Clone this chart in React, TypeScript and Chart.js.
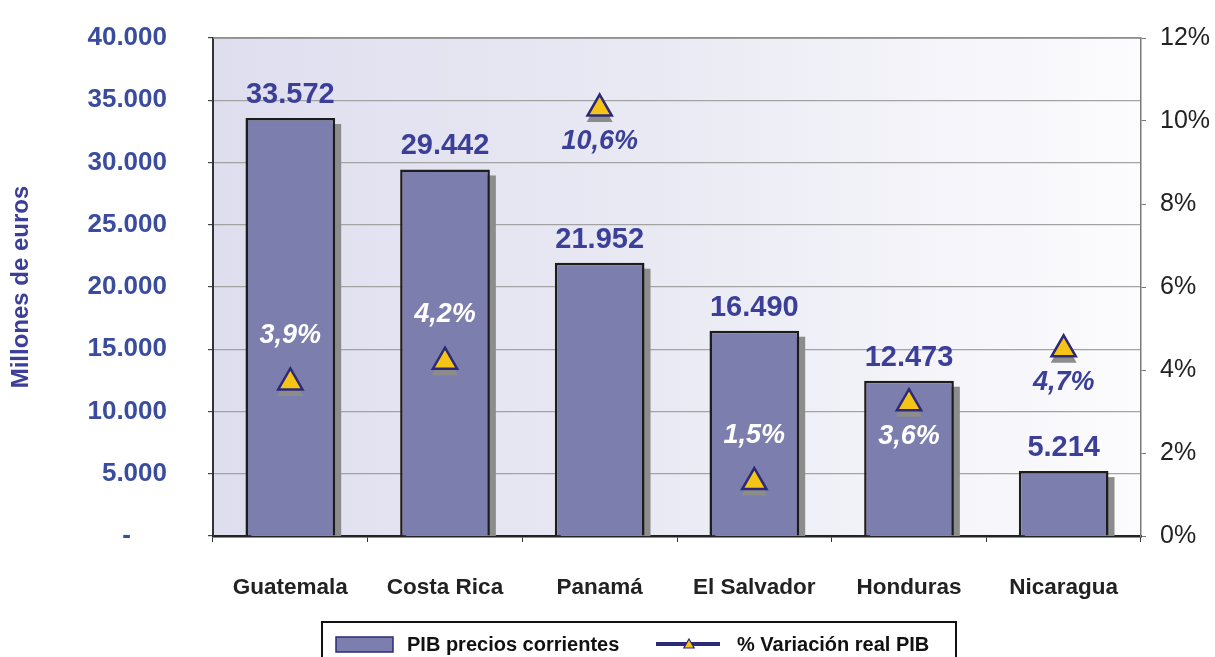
import React, { useEffect, useRef } from 'react';
import { Chart, registerables } from 'chart.js';

Chart.register(...registerables);

// ---------- data ----------
const categories = ['Guatemala', 'Costa Rica', 'Panamá', 'El Salvador', 'Honduras', 'Nicaragua'];
const pibCorriente = [33572, 29442, 21952, 16490, 12473, 5214];
// marker heights (right axis, %)
const variacionMarcador = [3.7, 4.2, 10.3, 1.3, 3.2, 4.5];
// printed labels of the growth series
const variacionEtiqueta = ['3,9%', '4,2%', '10,6%', '1,5%', '3,6%', '4,7%'];
const seriesNames = ['PIB precios corrientes', '% Variación real PIB'];
const axisTitle = 'Millones de euros';

// ---------- style ----------
const FONT = "'Liberation Sans', Arial, Helvetica, sans-serif";
const LABEL_BLUE = '#3b3f97';
const TICK_BLUE = '#3a4c9e';
const BAR_FILL = '#7c7eae';
const NAVY = '#2c2a78';
const YELLOW = '#f6c416';
const SHADOW = '#8c8c8c';
// label placement relative to marker (layout only)
const pctLabelSide = ['above', 'above', 'below', 'above', 'below', 'below'];

const fmtThousands = (n: number) => String(n).replace(/\B(?=(\d{3})+(?!\d))/g, '.');

function triPath(ctx: CanvasRenderingContext2D, x: number, y: number, r: number) {
  ctx.beginPath();
  ctx.moveTo(x, y - r);
  ctx.lineTo(x + (r * Math.sqrt(3)) / 2, y + r / 2);
  ctx.lineTo(x - (r * Math.sqrt(3)) / 2, y + r / 2);
  ctx.closePath();
}

const decorPlugin = {
  id: 'decor',
  beforeDraw(chart: any) {
    const { ctx, chartArea: a } = chart;
    ctx.save();
    const g = ctx.createLinearGradient(a.left, 0, a.right, 0);
    g.addColorStop(0, '#dedeef');
    g.addColorStop(0.5, '#eaeaf4');
    g.addColorStop(1, '#fcfcfe');
    ctx.fillStyle = g;
    ctx.fillRect(a.left, a.top, a.right - a.left, a.bottom - a.top);
    ctx.restore();
  },
  beforeDatasetsDraw(chart: any) {
    const { ctx, chartArea: a } = chart;
    ctx.save();
    // top border of plot area
    ctx.strokeStyle = '#8a8a8a';
    ctx.lineWidth = 1.5;
    ctx.beginPath();
    ctx.moveTo(a.left, a.top);
    ctx.lineTo(a.right, a.top);
    ctx.stroke();
    // bar shadows
    ctx.beginPath();
    ctx.rect(a.left, a.top, a.right - a.left, a.bottom - a.top);
    ctx.clip();
    ctx.fillStyle = SHADOW;
    const meta = chart.getDatasetMeta(0);
    meta.data.forEach((b: any) => {
      const w = b.width;
      ctx.fillRect(b.x - w / 2 + 6, b.y + 6, w, b.base - b.y);
    });
    ctx.restore();
  },
  afterDatasetDraw(chart: any, args: any) {
    if (args.index !== 0) return;
    const { ctx } = chart;
    const lineMeta = chart.getDatasetMeta(1);
    ctx.save();
    ctx.fillStyle = SHADOW;
    lineMeta.data.forEach((p: any) => {
      triPath(ctx, p.x, p.y + 6, 15);
      ctx.fill();
    });
    ctx.restore();
  },
  afterDatasetsDraw(chart: any) {
    const { ctx } = chart;
    const barMeta = chart.getDatasetMeta(0);
    const lineMeta = chart.getDatasetMeta(1);
    ctx.save();
    ctx.textAlign = 'center';
    ctx.textBaseline = 'middle';
    // value labels above bars
    ctx.font = `bold 29px ${FONT}`;
    ctx.fillStyle = LABEL_BLUE;
    barMeta.data.forEach((b: any, i: number) => {
      ctx.fillText(fmtThousands(chart.data.datasets[0].data[i]), b.x, b.y - 23);
    });
    // percentage labels
    ctx.font = `italic bold 27px ${FONT}`;
    lineMeta.data.forEach((p: any, i: number) => {
      const ly = pctLabelSide[i] === 'above' ? p.y - 47 : p.y + 33;
      const bar = barMeta.data[i];
      const inside = ly - 10 > bar.y;
      ctx.fillStyle = inside ? '#ffffff' : LABEL_BLUE;
      ctx.fillText(variacionEtiqueta[i], p.x, ly);
    });
    ctx.restore();
  },
  afterDraw(chart: any) {
    const { ctx } = chart;
    ctx.save();
    // legend box
    ctx.strokeStyle = '#111';
    ctx.lineWidth = 2;
    ctx.strokeRect(322, 622, 634, 60);
    // bar swatch
    ctx.fillStyle = BAR_FILL;
    ctx.fillRect(336, 637, 57, 15);
    ctx.strokeStyle = NAVY;
    ctx.lineWidth = 1.5;
    ctx.strokeRect(336, 637, 57, 15);
    ctx.font = `bold 20px ${FONT}`;
    ctx.fillStyle = '#111';
    ctx.textBaseline = 'alphabetic';
    ctx.textAlign = 'left';
    ctx.fillText(chart.data.datasets[0].label, 407, 651);
    // line swatch
    ctx.strokeStyle = NAVY;
    ctx.lineWidth = 4;
    ctx.beginPath();
    ctx.moveTo(656, 644);
    ctx.lineTo(720, 644);
    ctx.stroke();
    triPath(ctx, 689, 645, 6);
    ctx.fillStyle = YELLOW;
    ctx.fill();
    ctx.lineWidth = 1.2;
    ctx.stroke();
    ctx.fillStyle = '#111';
    ctx.fillText(chart.data.datasets[1].label, 737, 651);
    ctx.restore();
  },
};

export default function App() {
  const canvasRef = useRef<HTMLCanvasElement | null>(null);

  useEffect(() => {
    document.body.style.margin = '0';
    const canvas = canvasRef.current;
    if (!canvas) return;
    const chart = new Chart(canvas, {
      data: {
        labels: categories,
        datasets: [
          {
            type: 'bar',
            label: seriesNames[0],
            data: pibCorriente,
            yAxisID: 'y',
            backgroundColor: BAR_FILL,
            borderColor: '#1c1c1c',
            borderWidth: 2.5,
            barPercentage: 0.58,
            categoryPercentage: 1,
            order: 1,
          },
          {
            type: 'line',
            label: seriesNames[1],
            data: variacionMarcador,
            yAxisID: 'y1',
            showLine: false,
            borderColor: NAVY,
            pointStyle: 'triangle',
            pointRadius: 14,
            pointHoverRadius: 14,
            pointBackgroundColor: YELLOW,
            pointBorderColor: NAVY,
            pointBorderWidth: 2.5,
            order: 0,
          },
        ],
      } as any,
      options: {
        responsive: false,
        animation: false,
        layout: { padding: { top: 38, left: 0, right: 0, bottom: 0 } },
        plugins: {
          legend: { display: false },
          tooltip: { enabled: false },
        },
        scales: {
          x: {
            grid: { offset: true, drawOnChartArea: false, drawTicks: true, tickLength: 6, tickColor: '#333' },
            border: { color: '#222', width: 2.5 },
            ticks: { font: { family: FONT, size: 22.5, weight: 'bold' }, color: '#222', padding: 32 },
            afterFit: (s: any) => {
              s.height = 121;
              s.paddingLeft = 0;
              s.paddingRight = 0;
            },
          },
          y: {
            position: 'left',
            min: 0,
            max: 40000,
            ticks: {
              stepSize: 5000,
              callback: (v: any) => (Number(v) === 0 ? '-     ' : fmtThousands(Number(v))),
              font: { family: FONT, size: 26, weight: 'bold' },
              color: TICK_BLUE,
              padding: 41,
            },
            grid: { color: '#a3a3a3', lineWidth: 1.2, tickLength: 5, tickColor: '#444' },
            border: { color: '#333', width: 2 },
            title: {
              display: true,
              text: axisTitle,
              color: LABEL_BLUE,
              font: { family: FONT, size: 24, weight: 'bold' },
              padding: { top: 7, bottom: 0 },
            },
            afterFit: (s: any) => {
              s.width = 213;
              s.paddingTop = 0;
              s.paddingBottom = 0;
            },
          },
          y1: {
            position: 'right',
            min: 0,
            max: 12,
            ticks: {
              stepSize: 2,
              callback: (v: any) => `${v}%`,
              font: { family: FONT, size: 25 },
              color: '#222',
              padding: 14,
            },
            grid: { drawOnChartArea: false, tickLength: 5, tickColor: '#777' },
            border: { color: '#7a7a7a', width: 1.5 },
            afterFit: (s: any) => {
              s.width = 74;
              s.paddingTop = 0;
              s.paddingBottom = 0;
            },
          },
        },
      } as any,
      plugins: [decorPlugin],
    });
    return () => chart.destroy();
  }, []);

  return <canvas ref={canvasRef} width={1215} height={657} style={{ display: 'block' }} />;
}
